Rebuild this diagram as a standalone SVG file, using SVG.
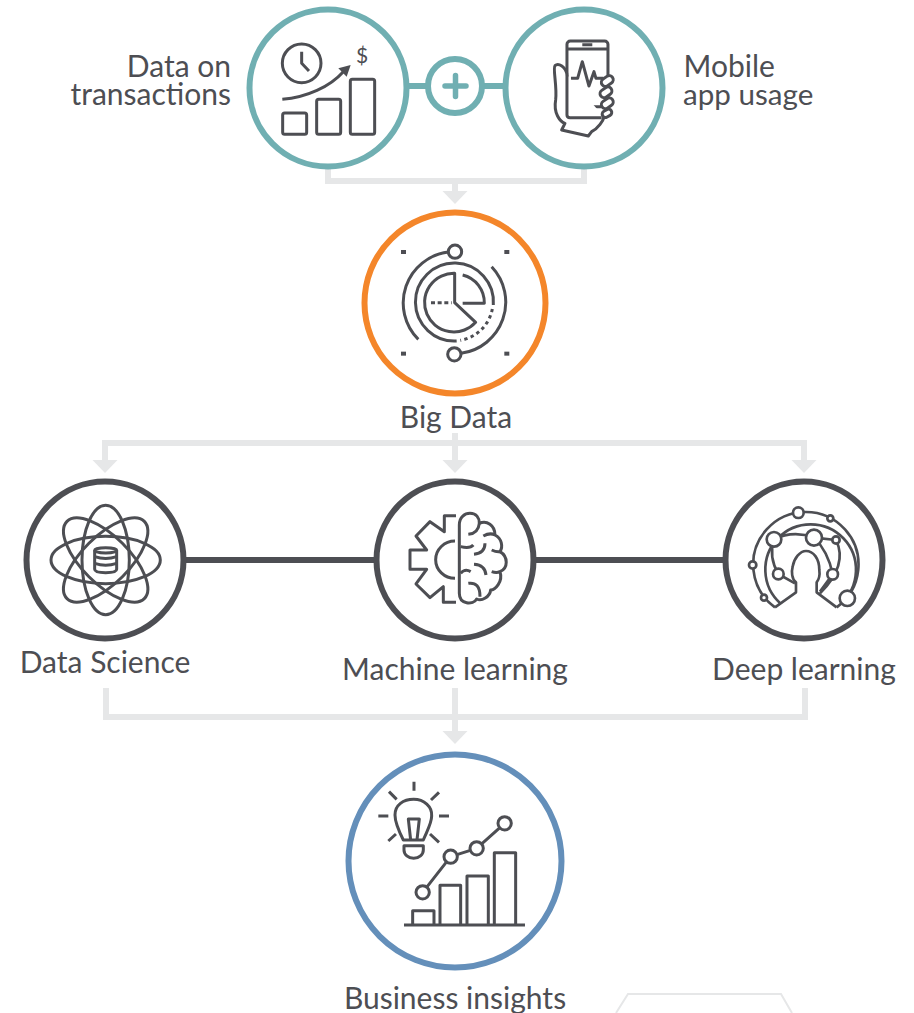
<svg xmlns="http://www.w3.org/2000/svg" width="914" height="1013" viewBox="0 0 914 1013">
<style>
.t{font-family:Lato,"Open Sans",sans-serif;font-size:30px;fill:#4d4e53}
.m{text-anchor:middle}
.e{text-anchor:end}
.ring{fill:#fff;stroke-width:6}
.teal{stroke:#70afb2}
.dark{stroke:#4d4e53}
.ic{fill:none;stroke:#4d4e53;stroke-width:9;stroke-linecap:butt;stroke-linejoin:round}
.ic .w{fill:#fff}
.ic .f{fill:#4d4e53;stroke:none}
.g{fill:none;stroke:#e6e7e8;stroke-width:6}
.ah{fill:#e6e7e8}
</style>
<defs>
<polygon id="ah" class="ah" points="-12.500,0 12.500,0 0,13"/>
</defs>
<rect width="914" height="1013" fill="#fff"/>
<g id="connectors">
<path class="g" d="M328 165V181H584V165M455 181V192"/>
<use href="#ah" x="455" y="191"/>
<path class="g" d="M105 461V443H804V461M455 433V461"/>
<use href="#ah" x="105" y="460"/>
<use href="#ah" x="455" y="460"/>
<use href="#ah" x="804" y="460"/>
<path class="g" d="M106 688V717H805V688M455 688V732"/>
<use href="#ah" x="455" y="731"/>
<path fill="none" stroke="#70afb2" stroke-width="6" d="M405 86H505"/>
<path fill="none" stroke="#4d4e53" stroke-width="6" d="M184 560H377M534 560H726"/>
<path fill="none" stroke="#e6e7e8" stroke-width="2" d="M616 1013L628 994H781L792 1013"/>
</g>
<g id="transactions">
<circle class="ring teal" cx="328" cy="88" r="78.500"/>
<g class="ic" transform="translate(240 0) scale(.3333)">
<circle cx="185" cy="190" r="58"/>
<path d="M185 155V190L207 213"/>
<path d="M127 298C200 292 270 260 310 215"/>
<polygon class="f" points="332,195 295,205 320,230"/>
<rect x="128" y="339" width="72" height="64" rx="6"/>
<rect x="230" y="298" width="72" height="105" rx="6"/>
<rect x="331" y="238" width="73" height="165" rx="6"/>
</g>
<text class="t" x="362" y="63" text-anchor="middle" style="font-size:21px">$</text>
<text class="t e" x="231" y="77">Data on</text>
<text class="t e" x="231" y="105">transactions</text>
</g>
<g id="plus">
<circle class="ring teal" cx="455" cy="86" r="27"/>
<path fill="none" stroke="#70afb2" stroke-width="5.500" stroke-linecap="round" d="M445 86H466M455.500 75.500V96.500"/>
</g>
<g id="mobile">
<circle class="ring teal" cx="584" cy="88" r="78.500"/>
<g class="ic" transform="translate(240 0) scale(.3333)">
<rect x="981" y="123" width="123" height="230" rx="10"/>
<path d="M1027 134H1057M983 147H1102M983 320H1085M993 235H1013L1027 185L1047 258L1062 215L1068 235H1090"/>
<circle class="f" cx="1041" cy="334" r="6"/>
<path class="w" d="M981 225C978 200 955 188 945 197C938 205 952 260 947 300C940 340 960 365 975 370L965 390L1045 408L1055 395C1075 385 1090 362 1092 350"/>
<path class="w" d="M981 225V345Q981 353 990 353H1085"/>
<rect class="w" x="-19" y="-12" width="38" height="24" rx="12" transform="translate(1102 243) rotate(-35)"/>
<rect class="w" x="-19" y="-12" width="38" height="24" rx="12" transform="translate(1098 277) rotate(-35)"/>
<rect class="w" x="-19" y="-12" width="38" height="24" rx="12" transform="translate(1102 310) rotate(-35)"/>
<rect class="w" x="-15" y="-10" width="30" height="20" rx="10" transform="translate(1101 340) rotate(-30)"/>
</g>
<text class="t" x="683.500" y="77">Mobile</text>
<text class="t" x="683" y="105" style="font-size:29.600px">app usage</text>
</g>
<g id="big-data">
<circle class="ring" stroke="#f4862a" cx="455" cy="303" r="90.500"/>
<g class="ic" transform="translate(355 205) scale(.3333)">
<circle cx="300" cy="140" r="20"/>
<circle cx="298" cy="448" r="20"/>
<path d="M280 141A154 154 0 0 0 190 403M410 185A155 155 0 0 1 318 445"/>
<path d="M415 300A117 117 0 1 0 305 408"/>
<path d="M412 312A117 117 0 0 1 316 406" stroke-dasharray="10 10"/>
<path d="M299 205A88 88 0 1 0 362 352L299 293Z"/>
<path d="M323 210A85 85 0 0 1 388 295H323"/>
<path d="M228 293H290" stroke-dasharray="12 8"/>
<rect class="f" x="138" y="135" width="15" height="12"/>
<rect class="f" x="448" y="135" width="15" height="12"/>
<rect class="f" x="138" y="440" width="15" height="12"/>
<rect class="f" x="448" y="440" width="15" height="12"/>
</g>
<text class="t m" x="456" y="428">Big Data</text>
</g>
<g id="data-science">
<circle class="ring dark" cx="105" cy="560" r="78.500"/>
<g class="ic" transform="translate(20 475) scale(.3333)">
<ellipse cx="257" cy="255" rx="164" ry="71"/>
<ellipse cx="257" cy="255" rx="164" ry="71" transform="rotate(45 257 255)"/>
<ellipse cx="257" cy="255" rx="164" ry="71" transform="rotate(90 257 255)"/>
<ellipse cx="257" cy="255" rx="164" ry="71" transform="rotate(135 257 255)"/>
<path d="M224 226V283Q224 293 257 293Q290 293 290 283V226"/>
<ellipse cx="257" cy="226" rx="33" ry="8"/>
<path d="M224 245Q257 256 290 245M224 265Q257 276 290 265"/>
</g>
<text class="t m" x="105" y="673">Data Science</text>
</g>
<g id="machine-learning">
<circle class="ring dark" cx="455" cy="560" r="78.500"/>
<g class="ic" transform="translate(370 475) scale(.3333)">
<path d="M258 122H223V170L180 140L138 183L170 225H120V283H170L138 327L180 368L220 335V382H258"/>
<path d="M255 198A58 56 0 0 0 255 310"/>
<path d="M268 150C268 125 285 115 300 115C320 115 328 130 328 145C350 135 375 150 375 180C395 190 400 215 390 230C415 245 415 280 390 290C400 320 375 345 362 345C360 365 335 380 320 372C310 390 268 390 268 355Z"/>
<path d="M295 178Q325 175 328 145M272 215Q300 222 310 210M312 238Q345 235 345 205M340 183Q360 172 375 180M365 225Q380 232 390 230M312 268Q345 270 348 300M272 295Q285 280 302 290M295 325Q330 320 330 365M365 290Q380 295 390 290"/>
</g>
<text class="t m" x="455" y="680">Machine learning</text>
</g>
<g id="deep-learning">
<circle class="ring dark" cx="804" cy="560" r="78.500"/>
<g class="ic" transform="translate(720 475) scale(.3333)" style="stroke-width:8">
<path d="M165 397A158 158 0 1 1 350 397"/>
<path d="M182 386A136 136 0 1 1 362 386"/>
<path d="M165 397L228 352V322C215 312 214 290 218 275C222 250 240 228 258 228C280 228 298 250 298 285C300 300 298 312 290 322V352L350 397"/>
<path d="M162 193Q145 245 175 297M175 297L225 325M162 193Q220 165 282 188M282 188Q325 230 338 298M338 298L300 350M282 188L348 195M348 195Q385 270 300 355"/>
<circle class="w" cx="235" cy="113" r="16"/>
<circle class="w" cx="331" cy="130" r="9"/>
<circle class="w" cx="98" cy="270" r="11"/>
<circle class="w" cx="132" cy="368" r="9"/>
<circle class="w" cx="382" cy="370" r="23"/>
<circle class="w" cx="162" cy="193" r="22"/>
<circle class="w" cx="282" cy="188" r="24"/>
<circle class="w" cx="175" cy="297" r="16"/>
<circle class="w" cx="338" cy="298" r="16"/>
<circle class="w" cx="348" cy="195" r="11"/>
</g>
<text class="t m" x="804" y="680">Deep learning</text>
</g>
<g id="business-insights">
<circle class="ring" stroke="#648fba" cx="455" cy="861" r="106.500"/>
<g class="ic" transform="translate(340 750) scale(.3333)">
<path d="M222 95V122M147 125L170 148M297 127L273 150M115 198H145M297 198H327M145 273L168 252M297 277L270 252"/>
<path d="M190 270C175 240 165 215 165 195C165 165 190 148 221 148C252 148 277 170 275 198C275 220 260 245 250 270Z"/>
<path d="M212 270L205 207H238L231 270"/>
<path d="M192 287H250V300A29 25 0 0 1 192 300Z"/>
<path d="M192 525H555"/>
<path d="M218 525V482H282V525M300 525V406H362V525M381 525V378H445V525M463 525V308H527V525"/>
<path d="M248 427L332 320L410 295L494 220"/>
<circle class="w" cx="248" cy="427" r="20"/>
<circle class="w" cx="332" cy="320" r="20"/>
<circle class="w" cx="410" cy="295" r="20"/>
<circle class="w" cx="494" cy="220" r="20"/>
</g>
<text class="t m" x="455" y="1009">Business insights</text>
</g>
</svg>
